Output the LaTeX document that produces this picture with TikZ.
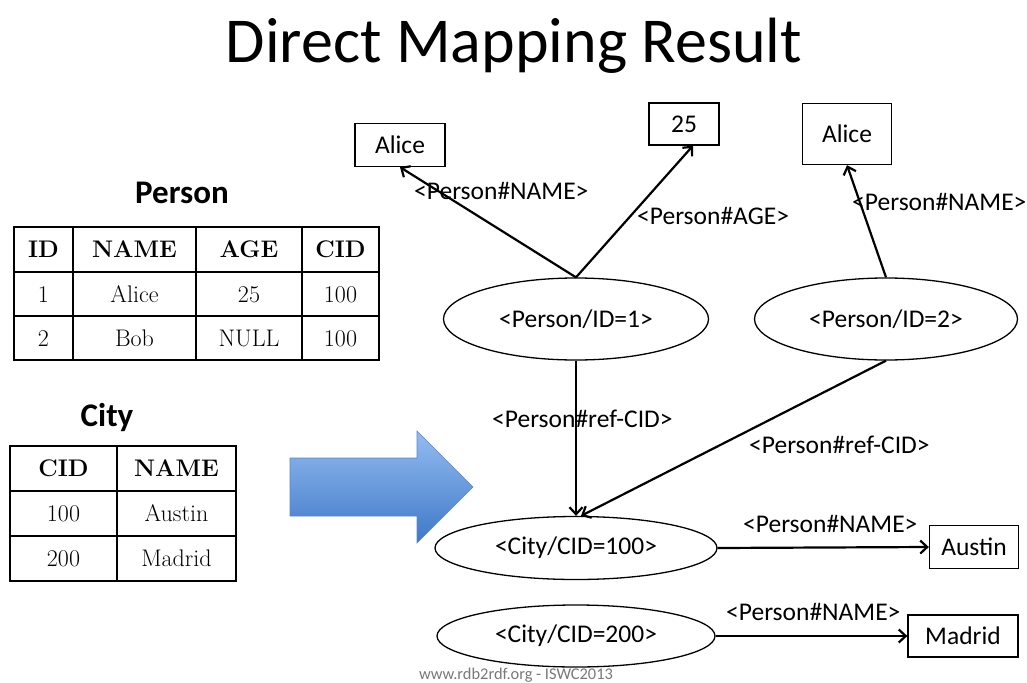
\documentclass[tikz,border=0pt]{standalone}
\usepackage{fontspec}
\newfontfamily\carl{Carlito}
\usetikzlibrary{arrows.meta,shapes.geometric}
\definecolor{arrowtop}{RGB}{148,188,240}
\definecolor{arrowbot}{RGB}{62,120,200}
\definecolor{arrowline}{RGB}{90,135,200}
\definecolor{footgray}{RGB}{120,120,120}
\tikzset{
  res/.style={draw, line width=1.3pt, ellipse, inner sep=0pt, font=\carl\fontsize{25.5}{30}\selectfont},
  lit/.style={draw, line width=1.3pt, rectangle, inner sep=0pt, font=\carl\fontsize{25.5}{30}\selectfont},
  edge/.style={line width=2.2pt, -{Straight Barb[length=7pt,width=13pt]}},
  lbl/.style={font=\carl\fontsize{25.5}{30}\selectfont, inner sep=0pt, anchor=base west},
  tline/.style={line width=1.4pt},
  cell/.style={inner sep=0pt, text height=16.5pt, text depth=0pt, font=\fontsize{24}{28}\selectfont},
  hcell/.style={cell, font=\fontsize{24}{28}\selectfont\bfseries},
}
\begin{document}
\begin{tikzpicture}[x=1pt,y=-1pt]
\useasboundingbox (0,0) rectangle (1027,682);
% title
\node[inner sep=0pt, anchor=base, font=\carl\fontsize{64}{72}\selectfont] (title) at (514,63) {Direct Mapping Result};
% Person table
\node[inner sep=0pt, anchor=base, font=\carl\bfseries\fontsize{33}{38}\selectfont] (ptitle) at (182,203) {Person};
\draw[tline] (14,227) rectangle (379,360);
\draw[tline] (14,272) -- (379,272) (14,316) -- (379,316);
\draw[tline] (73,227) -- (73,360) (196,227) -- (196,360) (302,227) -- (302,360);
\node[hcell] (ph1) at (43.5,249.5) {ID};
\node[hcell] (ph2) at (134.5,249.5) {NAME};
\node[hcell] (ph3) at (249,249.5) {AGE};
\node[hcell] (ph4) at (340.5,249.5) {CID};
\node[cell] (p11) at (43.5,294) {1};
\node[cell] (p12) at (134.5,294) {Alice};
\node[cell] (p13) at (249,294) {25};
\node[cell] (p14) at (340.5,294) {100};
\node[cell] (p21) at (43.5,338) {2};
\node[cell] (p22) at (134.5,338) {Bob};
\node[cell] (p23) at (249,338) {NULL};
\node[cell] (p24) at (340.5,338) {100};
% City table
\node[inner sep=0pt, anchor=base, font=\carl\bfseries\fontsize{33}{38}\selectfont] (ctitle) at (107,426) {City};
\draw[tline] (10,446) rectangle (236,581);
\draw[tline] (10,491) -- (236,491) (10,536) -- (236,536);
\draw[tline] (117,446) -- (117,581);
\node[hcell] (ch1) at (63.5,468.5) {CID};
\node[hcell] (ch2) at (176.5,468.5) {NAME};
\node[cell] (c11) at (63.5,513.5) {100};
\node[cell] (c12) at (176.5,513.5) {Austin};
\node[cell] (c21) at (63.5,558.5) {200};
\node[cell] (c22) at (176.5,558.5) {Madrid};
% blue arrow
\path[top color=arrowtop, bottom color=arrowbot, draw=arrowline, line width=0.6pt]
  (290,458) -- (417,458) -- (417,431) -- (473,487) -- (417,543) -- (417,516) -- (290,516) -- cycle;
% graph nodes
\node[res, minimum width=265pt, minimum height=82pt] (p1) at (576,319) {<Person/ID=1>};
\node[res, minimum width=263pt, minimum height=82pt] (p2) at (886,319) {<Person/ID=2>};
\node[res, minimum width=282pt, minimum height=63pt] (c1) at (576,548) {<City/CID=100>};
\node[res, minimum width=278pt, minimum height=62pt] (c2) at (576,636) {<City/CID=200>};
\node[lit, minimum width=90pt, minimum height=43pt] (a1) at (400,145) {Alice};
\node[lit, minimum width=70pt, minimum height=42pt] (v25) at (684,124) {25};
\node[lit, minimum width=89pt, minimum height=61pt] (a2) at (847,134) {Alice};
\node[lit, minimum width=89pt, minimum height=43pt] (austin) at (974,547) {Austin};
\node[lit, minimum width=110pt, minimum height=42pt] (madrid) at (963,636) {Madrid};
% edges
\draw[edge] (p1.north) -- (a1.south);
\draw[edge] (p1.north) -- ([xshift=9pt]v25.south);
\draw[edge] (p2.north) -- (a2.south);
\draw[edge] (p1.south) -- (c1.north);
\draw[edge] (p2.south) -- ([xshift=5pt]c1.north);
\draw[edge] (c1.east) -- (austin.west);
\draw[edge] (c2.east) -- (madrid.west);
% edge labels
\node[lbl] (l1) at (414,199) {<Person\#NAME>};
\node[lbl] (l2) at (637,224) {<Person\#AGE>};
\node[lbl] (l3) at (852,210) {<Person\#NAME>};
\node[lbl] (l4) at (492,427) {<Person\#ref-CID>};
\node[lbl] (l5) at (749,453) {<Person\#ref-CID>};
\node[lbl] (l6) at (743,532) {<Person\#NAME>};
\node[lbl] (l7) at (726,620) {<Person\#NAME>};
% footer
\node[inner sep=0pt, anchor=base, text=footgray, font=\carl\fontsize{16.4}{19}\selectfont] (foot) at (516,679) {www.rdb2rdf.org - ISWC2013};
\end{tikzpicture}
\end{document}
